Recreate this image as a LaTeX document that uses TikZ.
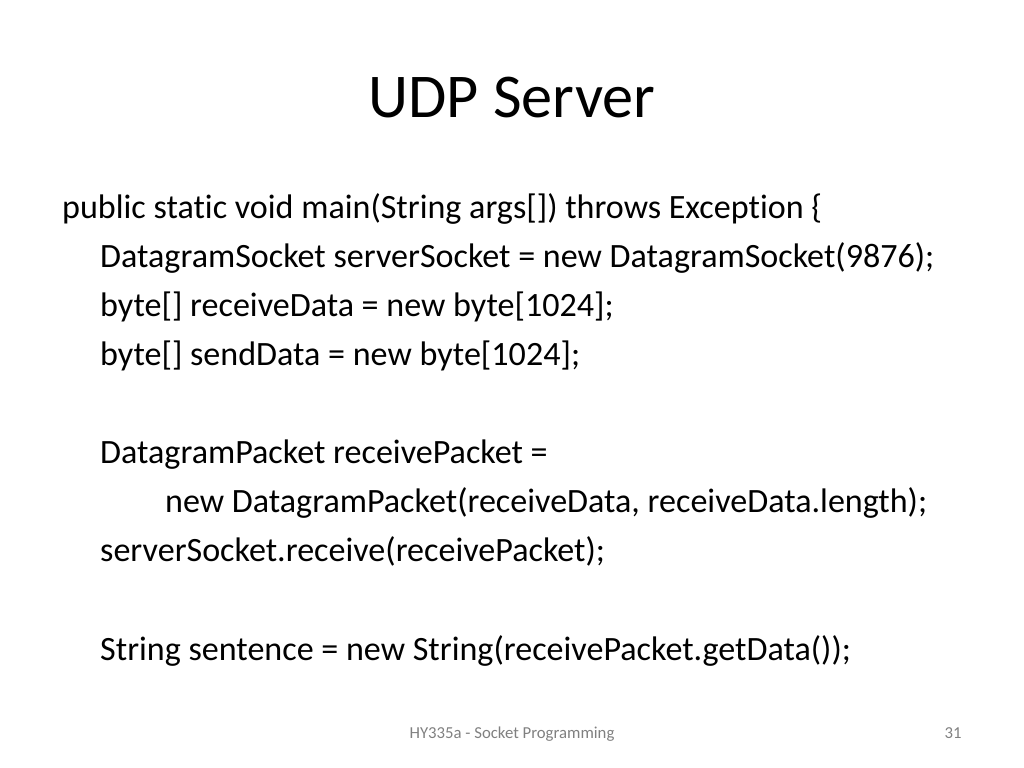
\documentclass[tikz,border=0pt]{standalone}
\usepackage{fontspec}
\setmainfont[Ligatures=CommonOff]{Carlito}
\tikzset{codeline/.style={anchor=base west, inner sep=0pt, font=\fontsize{34.2}{41}\selectfont}}
\begin{document}
\begin{tikzpicture}[x=1bp,y=-1bp]
\useasboundingbox (0,0) rectangle (1024,768);
\node[anchor=base, inner sep=0pt, font=\fontsize{62.5}{75}\selectfont] (title) at (512,117) {UDP Server};
\node[codeline] (l1) at (62,218) {public static void main(String args[]) throws Exception \{};
\node[codeline] (l2) at (100,267) {DatagramSocket serverSocket = new DatagramSocket(9876);};
\node[codeline] (l3) at (100,316) {byte[] receiveData = new byte[1024];};
\node[codeline] (l4) at (100,365) {byte[] sendData = new byte[1024];};
\node[codeline] (l5) at (100,463) {DatagramPacket receivePacket =};
\node[codeline] (l6) at (165,512) {new DatagramPacket(receiveData, receiveData.length);};
\node[codeline] (l7) at (100,561) {serverSocket.receive(receivePacket);};
\node[codeline] (l8) at (100,660) {String sentence = new String(receivePacket.getData());};
\node[anchor=base, inner sep=0pt, font=\fontsize{16.8}{20}\selectfont, text=gray] (foot) at (512,738) {HY335a - Socket Programming};
\node[anchor=base, inner sep=0pt, font=\fontsize{16.8}{20}\selectfont, text=gray] (page) at (953,738) {31};
\end{tikzpicture}
\end{document}
